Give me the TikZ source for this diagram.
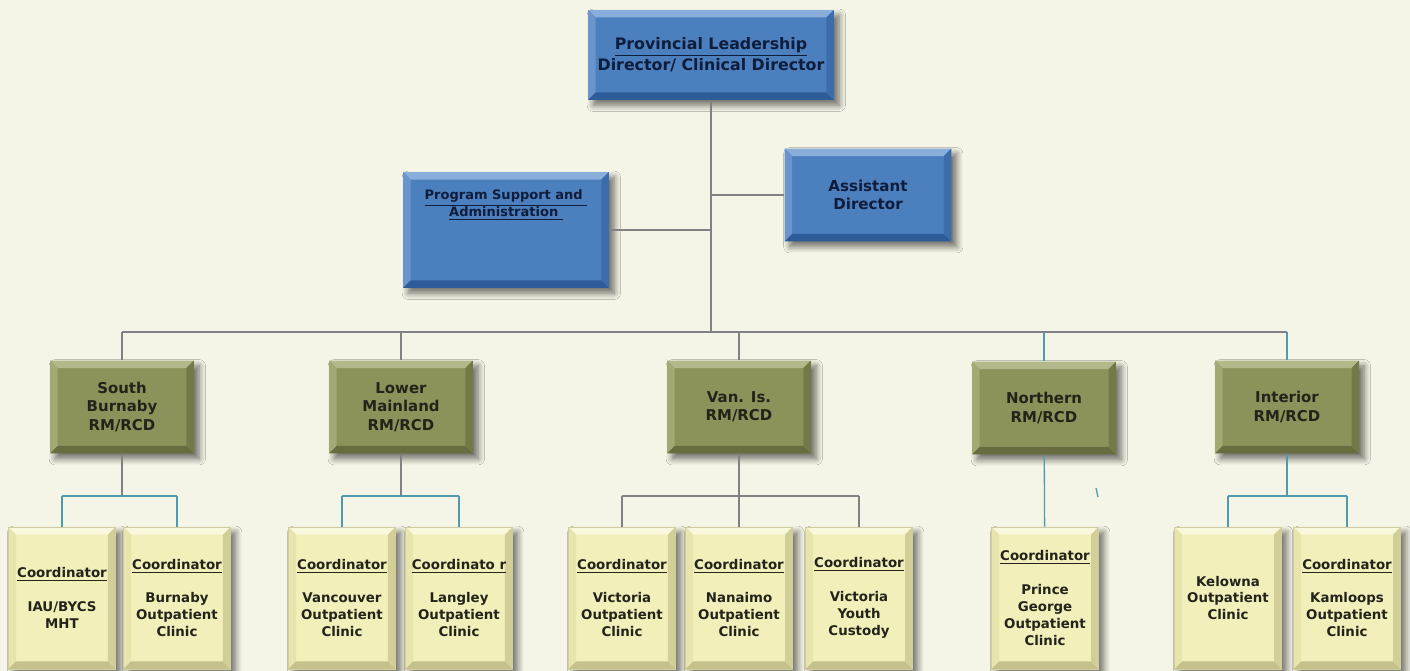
\documentclass[tikz,border=0pt]{standalone}
\usepackage{fontspec}
\setmainfont{DejaVu Sans}
\usetikzlibrary{shadows.blur}

\definecolor{paper}{HTML}{F5F5E7}
\definecolor{bluef}{HTML}{4C7FBE}
\definecolor{bluetop}{HTML}{8AAEDC}
\definecolor{blueleft}{HTML}{6A95CC}
\definecolor{bluebot}{HTML}{2E5C99}
\definecolor{blueright}{HTML}{3D6CAB}
\definecolor{navy}{HTML}{0E1D3B}
\definecolor{olivef}{HTML}{8C935A}
\definecolor{olivetop}{HTML}{B3B98A}
\definecolor{oliveleft}{HTML}{A3A973}
\definecolor{olivebot}{HTML}{676D3E}
\definecolor{oliveright}{HTML}{737A47}
\definecolor{creamf}{HTML}{F1EFBA}
\definecolor{creamtop}{HTML}{F9F8DD}
\definecolor{creamleft}{HTML}{E7E4AC}
\definecolor{creambot}{HTML}{C5C18A}
\definecolor{creamright}{HTML}{D2CE97}
\definecolor{inkdark}{HTML}{23231A}
\definecolor{wire}{HTML}{808282}
\definecolor{wireteal}{HTML}{4E9BB0}

\newcommand{\bevelw}{0.15cm}
\newcommand{\coordhead}{\underline{Coordinator}\\[9.6pt]}

\tikzset{
  bevel/.style n args={4}{path picture={
      \path (path picture bounding box.north west) coordinate (bvnw)
            (path picture bounding box.north east) coordinate (bvne)
            (path picture bounding box.south east) coordinate (bvse)
            (path picture bounding box.south west) coordinate (bvsw);
      \fill[#1] (bvnw) -- (bvne) -- ([shift={(-\bevelw,-\bevelw)}]bvne)
                -- ([shift={(\bevelw,-\bevelw)}]bvnw) -- cycle;
      \fill[#2] (bvnw) -- (bvsw) -- ([shift={(\bevelw,\bevelw)}]bvsw)
                -- ([shift={(\bevelw,-\bevelw)}]bvnw) -- cycle;
      \fill[#3] (bvsw) -- (bvse) -- ([shift={(-\bevelw,\bevelw)}]bvse)
                -- ([shift={(\bevelw,\bevelw)}]bvsw) -- cycle;
      \fill[#4] (bvne) -- (bvse) -- ([shift={(-\bevelw,\bevelw)}]bvse)
                -- ([shift={(-\bevelw,-\bevelw)}]bvne) -- cycle;
  }},
  boxshadow/.style={blur shadow={shadow xshift=3pt,shadow yshift=-3pt,
      shadow blur radius=3.5pt,shadow blur steps=8,shadow opacity=55}}
}

\begin{document}
\begin{tikzpicture}[x=0.02cm,y=-0.02cm]

  \tikzstyle{lead}=[rectangle,fill=bluef,boxshadow,
    bevel={bluetop}{blueleft}{bluebot}{blueright},
    text=navy,align=center,inner sep=0pt]
  \tikzstyle{region}=[rectangle,fill=olivef,boxshadow,
    bevel={olivetop}{oliveleft}{olivebot}{oliveright},
    minimum width=2.88cm,minimum height=1.86cm,
    text=inkdark,align=center,inner sep=0pt,
    font=\bfseries\fontsize{8.5}{10.5}\selectfont]
  \tikzstyle{clinic}=[rectangle,fill=creamf,boxshadow,draw=creambot!80,line width=0.4pt,
    bevel={creamtop}{creamleft}{creambot}{creamright},
    minimum width=2.14cm,minimum height=2.84cm,
    text=inkdark,align=center,inner sep=0pt,
    font=\bfseries\fontsize{7.6}{9.6}\selectfont]

  %% \draw [help lines] (0,0) grid[step=50] (1410,671);
  \fill[paper] (0,0) rectangle (1410,671);

  \node  (dir)  at (711,55)   [lead,minimum width=4.92cm,minimum height=1.8cm,
                               font=\bfseries\fontsize{9}{10.2}\selectfont]
         {\underline{Provincial Leadership}\\Director/ Clinical Director};
  \node  (asst) at (868,195)  [lead,minimum width=3.34cm,minimum height=1.86cm,
                               font=\bfseries\fontsize{8.6}{10.2}\selectfont]
         {Assistant\\Director};
  \node  (psa)  at (506,230)  [lead,minimum width=4.12cm,minimum height=2.32cm] {};
  \node  (psat) at (psa.north) [anchor=north,yshift=-0.36cm,inner sep=0pt,
                                align=center,text=navy,
                                font=\bfseries\fontsize{7.4}{9.6}\selectfont]
         {\underline{Program Support and\ }\\\underline{Administration\ }};

  \node  (sb)   at (122,407)  [region] {South\\Burnaby\\RM/RCD};
  \node  (lm)   at (401,407)  [region] {Lower\\Mainland\\RM/RCD};
  \node  (vi)   at (739,407)  [region] {Van. Is.\\RM/RCD};
  \node  (no)   at (1044,408) [region] {Northern\\RM/RCD};
  \node  (in)   at (1287,407) [region] {Interior\\RM/RCD};

  \node  (sbi)  at (62,598)   [clinic] {\coordhead IAU/BYCS\\MHT};
  \node  (sbo)  at (177,598)  [clinic] {\coordhead Burnaby\\Outpatient\\Clinic};
  \node  (lmv)  at (342,598)  [clinic] {\coordhead Vancouver\\Outpatient\\Clinic};
  \node  (lml)  at (459,598)  [clinic] {\underline{Coordinato r}\\[9.6pt]Langley\\Outpatient\\Clinic};
  \node  (viv)  at (622,598)  [clinic] {\coordhead Victoria\\Outpatient\\Clinic};
  \node  (vin)  at (739,598)  [clinic] {\coordhead Nanaimo\\Outpatient\\Clinic};
  \node  (viy)  at (859,598)  [clinic] {\coordhead Victoria\\Youth\\Custody};
  \node  (nop)  at (1045,598) [clinic] {\coordhead Prince\\George\\Outpatient\\Clinic};
  \node  (ink)  at (1228,598) [clinic] {Kelowna\\Outpatient\\Clinic};
  \node  (inm)  at (1347,598) [clinic] {\coordhead Kamloops\\Outpatient\\Clinic};

  \tikzstyle{tie}=[draw=wire,line width=0.75pt]
  \tikzstyle{tiet}=[draw=wireteal,line width=0.75pt]

  \coordinate (ja)  at (711,195);
  \coordinate (jp)  at (711,230);
  \coordinate (bus) at (711,332);
  \coordinate (sbj) at (122,496);
  \coordinate (lmj) at (401,496);
  \coordinate (vij) at (739,496);
  \coordinate (inj) at (1287,496);

  \path (dir)  edge [tie]  (bus)
        (asst) edge [tie]  (ja)
        (psa)  edge [tie]  (jp);

  \draw [tie] (sb |- bus) -- (in |- bus);
  \path (sb |- bus) edge [tie]  (sb)
        (lm |- bus) edge [tie]  (lm)
        (vi |- bus) edge [tie]  (vi)
        (no |- bus) edge [tiet] (no)
        (in |- bus) edge [tiet] (in);

  \path (sb) edge [tie] (sbj)
        (lm) edge [tie] (lmj)
        (vi) edge [tie] (vij)
        (in) edge [tiet] (inj)
        (no) edge [tiet] (nop);

  \draw [tiet] (sbi |- sbj) -- (sbo |- sbj);
  \draw [tiet] (lmv |- lmj) -- (lml |- lmj);
  \draw [tie]  (viv |- vij) -- (viy |- vij);
  \draw [tiet] (ink |- inj) -- (inm |- inj);

  \path (sbi |- sbj) edge [tiet] (sbi)
        (sbo |- sbj) edge [tiet] (sbo)
        (lmv |- lmj) edge [tiet] (lmv)
        (lml |- lmj) edge [tiet] (lml)
        (viv |- vij) edge [tie]  (viv)
        (vin |- vij) edge [tie]  (vin)
        (viy |- vij) edge [tie]  (viy)
        (ink |- inj) edge [tiet] (ink)
        (inm |- inj) edge [tiet] (inm);

  \draw [tiet] (1096,488) -- (1098,497);
\end{tikzpicture}
\end{document}
